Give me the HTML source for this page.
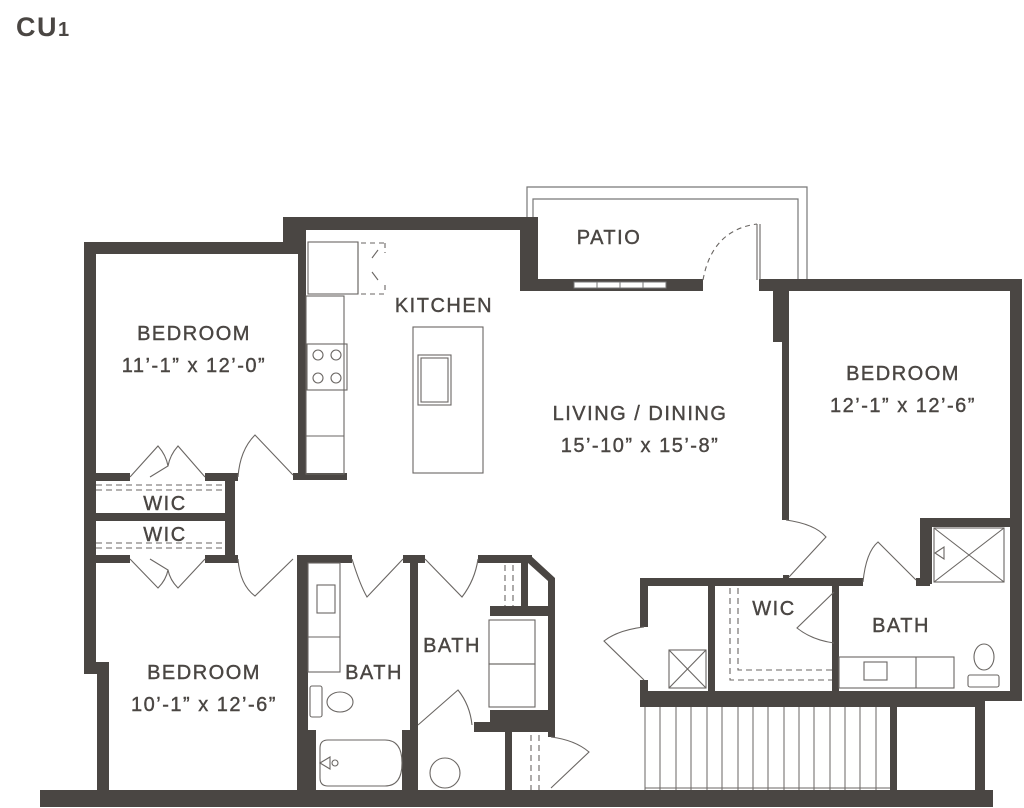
<!DOCTYPE html>
<html><head><meta charset="utf-8"><style>
html,body{margin:0;padding:0;background:#fff;width:1024px;height:808px;overflow:hidden}
svg{display:block}
text{font-family:"Liberation Sans",sans-serif;fill:#4a4643;letter-spacing:1.5px}
</style></head><body>
<svg width="1024" height="808" viewBox="0 0 1024 808" xmlns="http://www.w3.org/2000/svg">
<text x="16" y="36" font-size="27" font-weight="bold" letter-spacing="0">CU<tspan font-size="20">1</tspan></text>

<!-- patio railing -->
<g fill="none" stroke="#777" stroke-width="1.2">
<polyline points="527,217 527,187 807,187 807,279"/>
<polyline points="533,217 533,199 798,199 798,279"/>
</g>

<g fill="#4a4643">
<rect x="84" y="242" width="222" height="12"/>
<rect x="283" y="217" width="255" height="13"/>
<rect x="283" y="217" width="23" height="37"/>
<rect x="520" y="217" width="18" height="74"/>
<rect x="520" y="279" width="183" height="12"/>
<rect x="759" y="279" width="262" height="12"/>
<rect x="84" y="242" width="12" height="432"/>
<rect x="84" y="662" width="25" height="12"/>
<rect x="97" y="662" width="12" height="130"/>
<rect x="298" y="230" width="8" height="250"/>
<rect x="293" y="473" width="54" height="7"/>
<rect x="84" y="473" width="46" height="8"/>
<rect x="205" y="473" width="33" height="8"/>
<rect x="92" y="513" width="140" height="8"/>
<rect x="225" y="473" width="10" height="90"/>
<rect x="84" y="555" width="46" height="8"/>
<rect x="205" y="555" width="33" height="8"/>
<rect x="297" y="555" width="55" height="8"/>
<rect x="297" y="555" width="11" height="237"/>
<rect x="403" y="555" width="22" height="8"/>
<rect x="410" y="555" width="8" height="237"/>
<rect x="308" y="730" width="8" height="62"/>
<rect x="402" y="730" width="8" height="62"/>
<rect x="478" y="555" width="54" height="8"/>
<polygon points="530,555 555,578 555,737 548,737 548,581 528,563"/>
<rect x="521" y="563" width="7" height="46"/>
<rect x="490" y="606" width="62" height="10"/>
<rect x="490" y="710" width="62" height="12"/>
<rect x="474" y="722" width="78" height="10"/>
<rect x="505" y="732" width="7" height="60"/>
<rect x="773" y="279" width="16" height="63"/>
<rect x="782" y="291" width="7" height="229"/>
<rect x="783" y="575" width="6" height="10"/>
<rect x="1010" y="279" width="12" height="422"/>
<rect x="920" y="518" width="92" height="9"/>
<rect x="920" y="518" width="12" height="66"/>
<rect x="640" y="578" width="223" height="8"/>
<rect x="916" y="578" width="14" height="8"/>
<rect x="640" y="578" width="8" height="49"/>
<rect x="640" y="680" width="8" height="27"/>
<rect x="708" y="578" width="7" height="114"/>
<rect x="832" y="578" width="7" height="114"/>
<rect x="640" y="691" width="345" height="16"/>
<rect x="975" y="691" width="47" height="10"/>
<rect x="975" y="700" width="10" height="92"/>
<rect x="890" y="707" width="7" height="85"/>
<rect x="40" y="790" width="953" height="17"/>
</g>

<g fill="#fff" stroke="#777" stroke-width="1">
<rect x="574" y="282" width="92" height="6"/>
</g>
<g stroke="#777" stroke-width="1"><line x1="597" y1="282" x2="597" y2="288"/><line x1="620" y1="282" x2="620" y2="288"/><line x1="643" y1="282" x2="643" y2="288"/></g>

<g fill="none" stroke="#6a6663" stroke-width="1.1">
<rect x="308" y="242" width="50" height="52"/>
<line x1="358" y1="242" x2="358" y2="294"/>
<path d="M361,243 H385 M385,243 v10 M385,285 v9 M361,294 H385" stroke-dasharray="5,4"/>
<path d="M372,258 l6,-8 M372,272 l6,8"/>
<rect x="306" y="296" width="38" height="178"/>
<rect x="307" y="344" width="40" height="46"/>
<circle cx="318" cy="355" r="5"/><circle cx="336" cy="355" r="5"/>
<circle cx="318" cy="378" r="5"/><circle cx="336" cy="378" r="5"/>
<line x1="306" y1="436" x2="344" y2="436"/>
<rect x="413" y="327" width="70" height="146"/>
<rect x="418" y="355" width="33" height="50"/>
<rect x="421" y="358" width="27" height="44"/>
<g stroke-dasharray="6,4">
<line x1="96" y1="485" x2="225" y2="485"/><line x1="96" y1="490" x2="225" y2="490"/>
<line x1="96" y1="543" x2="225" y2="543"/><line x1="96" y1="548" x2="225" y2="548"/>
<line x1="505" y1="565" x2="505" y2="606"/><line x1="513" y1="565" x2="513" y2="606"/>
<line x1="531" y1="735" x2="531" y2="790"/><line x1="539" y1="735" x2="539" y2="790"/>
<polyline points="738,588 738,670 832,670"/>
<polyline points="730,588 730,680 832,680"/>
</g>
<path d="M130,477 L158,446 Q166,455 168,466 L150,477" />
<path d="M205,477 L178,446 Q170,455 168,466"/>
<path d="M238,477 Q240,450 255,435 L293,475"/>
<path d="M130,559 L158,588 Q166,580 168,570 L150,559"/>
<path d="M205,559 L178,588 Q170,580 168,570"/>
<path d="M238,559 Q240,585 255,596 L293,559"/>
<path d="M352,559 Q360,585 367,597 L403,559"/>
<path d="M425,559 L462,597 Q475,580 478,559"/>
<path d="M418,725 L458,690 Q470,705 472,725"/>
<path d="M551,737 Q575,740 589,752 L551,788"/>
<path d="M703,280 Q712,230 757,224" stroke-dasharray="5,4"/>
<line x1="757" y1="224" x2="757" y2="280"/><line x1="760" y1="224" x2="760" y2="280"/>
<path d="M786,520 Q815,524 826,537 L789,577"/>
<path d="M863,582 Q866,552 878,542 L916,580"/>
<path d="M644,627 Q618,630 604,641 L644,680"/>
<path d="M834,592 L797,628 Q812,640 834,643"/>
<rect x="308" y="563" width="32" height="109"/>
<line x1="308" y1="637" x2="340" y2="637"/>
<rect x="317" y="585" width="18" height="28"/>
<rect x="310" y="686" width="12" height="31" rx="2"/>
<ellipse cx="340" cy="702" rx="13" ry="10"/>
<path d="M328,740 H385 Q402,740 402,763 Q402,786 385,786 H328 Q320,786 320,778 V748 Q320,740 328,740 Z"/>
<polygon points="320,763 330,757 330,769"/><circle cx="335" cy="763" r="3"/>
<rect x="489" y="620" width="46" height="44"/>
<rect x="489" y="664" width="46" height="43"/>
<circle cx="445" cy="773" r="15"/>
<rect x="934" y="528" width="70" height="54"/>
<line x1="934" y1="528" x2="1004" y2="582"/><line x1="1004" y1="528" x2="934" y2="582"/>
<polygon points="935,553 944,547 944,559"/>
<rect x="669" y="650" width="37" height="38"/>
<line x1="669" y1="650" x2="706" y2="688"/><line x1="706" y1="650" x2="669" y2="688"/>
<rect x="839" y="657" width="115" height="31"/>
<line x1="916" y1="657" x2="916" y2="688"/>
<rect x="864" y="662" width="23" height="18"/>
<ellipse cx="984" cy="657" rx="10" ry="13"/>
<rect x="968" y="675" width="31" height="12" rx="2"/>
<g stroke-width="1">
<line x1="645" y1="707" x2="645" y2="790"/><line x1="660" y1="707" x2="660" y2="790"/>
<line x1="676" y1="707" x2="676" y2="790"/><line x1="691" y1="707" x2="691" y2="790"/>
<line x1="707" y1="707" x2="707" y2="790"/><line x1="722" y1="707" x2="722" y2="790"/>
<line x1="738" y1="707" x2="738" y2="790"/><line x1="753" y1="707" x2="753" y2="790"/>
<line x1="768" y1="707" x2="768" y2="790"/><line x1="784" y1="707" x2="784" y2="790"/>
<line x1="799" y1="707" x2="799" y2="790"/><line x1="814" y1="707" x2="814" y2="790"/>
<line x1="830" y1="707" x2="830" y2="790"/><line x1="845" y1="707" x2="845" y2="790"/>
<line x1="860" y1="707" x2="860" y2="790"/><line x1="876" y1="707" x2="876" y2="790"/>
<line x1="645" y1="788" x2="890" y2="788"/>
</g>
</g>

<g font-size="20" text-anchor="middle" stroke="#4a4643" stroke-width="0.4">
<text x="194" y="340">BEDROOM</text>
<text x="194" y="372">11’-1” x 12’-0”</text>
<text x="444" y="312">KITCHEN</text>
<text x="609" y="244">PATIO</text>
<text x="640" y="420">LIVING / DINING</text>
<text x="640" y="452">15’-10” x 15’-8”</text>
<text x="903" y="380">BEDROOM</text>
<text x="903" y="412">12’-1” x 12’-6”</text>
<text x="165" y="510">WIC</text>
<text x="165" y="541">WIC</text>
<text x="204" y="679">BEDROOM</text>
<text x="204" y="711">10’-1” x 12’-6”</text>
<text x="374" y="679">BATH</text>
<text x="452" y="652">BATH</text>
<text x="774" y="615">WIC</text>
<text x="901" y="632">BATH</text>
</g>
</svg>
</body></html>
